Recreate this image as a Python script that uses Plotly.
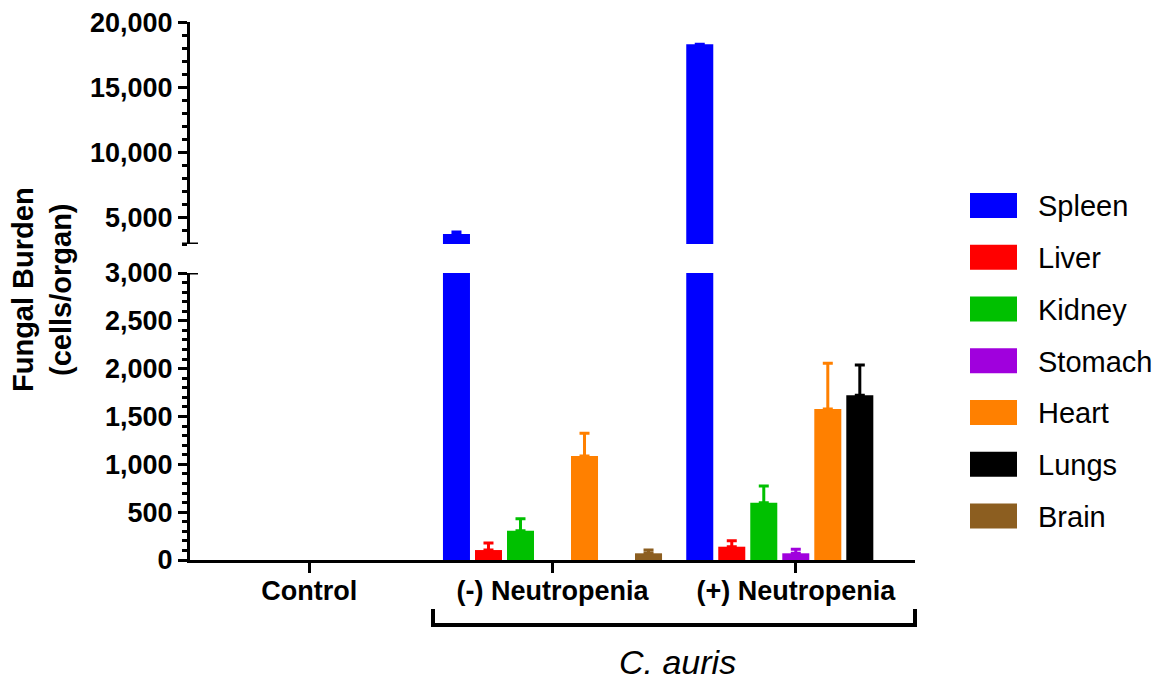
import plotly.graph_objects as go

categories = ["Control", "(-) Neutropenia", "(+) Neutropenia"]
organs = ["Spleen", "Liver", "Kidney", "Stomach", "Heart", "Lungs", "Brain"]
colors = ["#0000FF", "#FF0000", "#00C000", "#A000DD", "#FF8000", "#000000", "#8C5E20"]

spleen = [0, 3760, 18300]
liver = [0, 104, 139]
kidney = [0, 306, 599]
stomach = [0, 0, 70]
heart = [0, 1087, 1578]
lungs = [0, 0, 1721]
brain = [0, 70, 0]

spleen_err = [0, 150, 0]
liver_err = [0, 73, 63]
kidney_err = [0, 126, 174]
stomach_err = [0, 0, 42]
heart_err = [0, 237, 478]
lungs_err = [0, 0, 317]
brain_err = [0, 34, 0]

values = [spleen, liver, kidney, stomach, heart, lungs, brain]
errors = [spleen_err, liver_err, kidney_err, stomach_err, heart_err, lungs_err, brain_err]

lower_ticks = [0, 500, 1000, 1500, 2000, 2500, 3000]
upper_ticks = [5000, 10000, 15000, 20000]

FONT = "Arial, Liberation Sans, sans-serif"

# the page body adds an 8px offset; targets below are in page pixels
OFF = 8
W, H = 1164 - OFF, 681 - OFF
left_pg, right_pg, top_pg, bottom_pg = 190, 915, 22, 560
ml = left_pg - OFF
mt = top_pg - OFF
mr = W - (right_pg - OFF)
mb = H - (bottom_pg - OFF)
pw = W - ml - mr
ph = H - mt - mb


def py(pix):
    return (bottom_pg - pix) / ph


def px(pix):
    return (pix - left_pg) / pw


fig = go.Figure()
for yax in ["y", "y2"]:
    for name, col, v, e in zip(organs, colors, values, errors):
        shown = [val if val else None for val in v]
        fig.add_trace(go.Bar(
            x=categories, y=shown, name=name, xaxis="x", yaxis=yax,
            marker=dict(color=col, line=dict(width=0)),
            error_y=dict(type="data", array=e, arrayminus=[0] * len(e), symmetric=False,
                         color=col, thickness=3, width=5),
            showlegend=False,
        ))

axis_common = dict(
    showline=True, linecolor="black", linewidth=3,
    ticks="outside", ticklen=9, tickwidth=3, tickcolor="black",
    showgrid=False, zeroline=False, automargin=False,
    ticklabeloverflow="allow",
    tickfont=dict(family=FONT, size=27, color="black", weight="bold"),
    tickformat=",",
)

fig.update_layout(
    width=W, height=H,
    margin=dict(l=ml, r=mr, t=mt, b=mb, autoexpand=False),
    plot_bgcolor="white", paper_bgcolor="white",
    barmode="group", bargap=0.079, bargroupgap=0.156,
    xaxis=dict(
        type="category", range=[-0.49, 2.49], anchor="y", automargin=False,
        showline=True, linecolor="black", linewidth=3,
        ticks="outside", ticklen=10, tickwidth=3, tickcolor="black",
        ticklabelstandoff=-5,
        showgrid=False, zeroline=False,
        tickfont=dict(family=FONT, size=27, color="black", weight="bold"),
    ),
    yaxis=dict(
        domain=[0, py(273)], range=[0, 3000], anchor="x",
        tickmode="array", tickvals=lower_ticks,
        minor=dict(dtick=100, tick0=0, ticks="outside", ticklen=5, tickwidth=2.5, tickcolor="black", showgrid=False),
        **axis_common,
    ),
    yaxis2=dict(
        domain=[py(244), 1], range=[3000, 20010], anchor="x",
        tickmode="array", tickvals=upper_ticks,
        minor=dict(dtick=1000, tick0=0, ticks="outside", ticklen=5, tickwidth=2.5, tickcolor="black", showgrid=False),
        **axis_common,
    ),
)

shapes = []
bw = 8 / pw
shapes.append(dict(type="line", xref="paper", yref="y", x0=-bw, x1=bw, y0=3000, y1=3000,
                   line=dict(color="black", width=3)))
shapes.append(dict(type="line", xref="paper", yref="y2", x0=-bw, x1=bw, y0=3000, y1=3000,
                   line=dict(color="black", width=3)))
bx0, bx1, by0, by1 = px(433), px(915), py(609), py(625)
shapes.append(dict(type="path", xref="paper", yref="paper",
                   path=f"M {bx0},{by0} L {bx0},{by1} L {bx1},{by1} L {bx1},{by0}",
                   line=dict(color="black", width=4)))

annotations = []
for i, (name, col) in enumerate(zip(organs, colors)):
    yc = 205.5 + 51.75 * i
    shapes.append(dict(type="rect", xref="paper", yref="paper",
                       x0=px(970), x1=px(1017), y0=py(yc + 12.5), y1=py(yc - 12.5),
                       fillcolor=col, line=dict(width=0)))
    annotations.append(dict(xref="paper", yref="paper", x=px(1036), y=py(yc + 1),
                            text=name, showarrow=False, xanchor="left", yanchor="middle",
                            font=dict(family=FONT, size=29, color="black")))

annotations.append(dict(xref="paper", yref="paper", x=px(42), y=py(290),
                        text="Fungal Burden<br>(cells/organ)", showarrow=False, textangle=-90,
                        xanchor="center", yanchor="middle",
                        font=dict(family=FONT, size=29, color="black", weight="bold")))
annotations.append(dict(xref="paper", yref="paper", x=px(677), y=py(662),
                        text="<i>C. auris</i>", showarrow=False, xanchor="center", yanchor="middle",
                        font=dict(family=FONT, size=34, color="black")))

fig.update_layout(shapes=shapes, annotations=annotations)
fig.write_html("out.html")
